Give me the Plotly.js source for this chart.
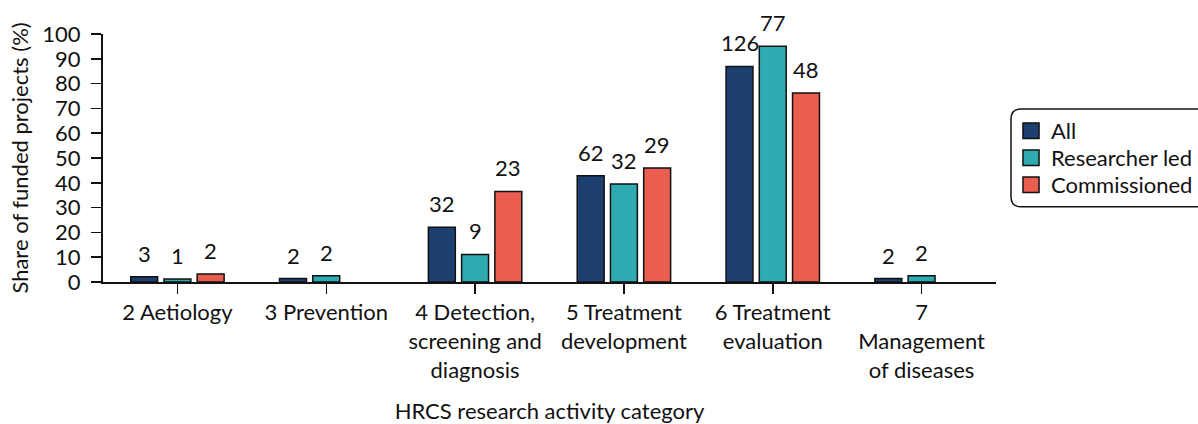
<!DOCTYPE html>
<html>
<head>
<meta charset="utf-8">
<script src="https://cdn.plot.ly/plotly-3.0.1.min.js"></script>
<style>
html,body{margin:0;padding:0;background:#fff;}
#chart{width:1198px;height:424px;}
</style>
</head>
<body>
<div id="chart"></div>
<script>
// ---- data ----
const categories = [
  "2 Aetiology",
  "3 Prevention",
  "4 Detection,<br>screening and<br>diagnosis",
  "5 Treatment<br>development",
  "6 Treatment<br>evaluation",
  "7<br>Management<br>of diseases"
];
const seriesNames = ["All", "Researcher led", "Commissioned"];
const allShare = [2.1, 1.4, 22.1, 42.8, 86.9, 1.4];
const researcherShare = [1.2, 2.5, 11.1, 39.5, 95.1, 2.5];
const commissionedShare = [3.2, null, 36.5, 46.0, 76.2, null];
const allCounts = [3, 2, 32, 62, 126, 2];
const researcherCounts = [1, 2, 9, 32, 77, 2];
const commissionedCounts = [2, null, 23, 29, 48, null];
const yTicks = [0, 10, 20, 30, 40, 50, 60, 70, 80, 90, 100];

// ---- styling ----
const colors = ["#1c3f6f", "#2eabb0", "#ea5e50"];
const FONT = "Lato, 'Open Sans', sans-serif";
const FS = 22;
const shares = [allShare, researcherShare, commissionedShare];
const counts = [allCounts, researcherCounts, commissionedCounts];

const traces = [];
shares.forEach((vals, i) => {
  traces.push({
    type: "bar",
    name: seriesNames[i],
    x: categories,
    y: vals,
    marker: {color: colors[i], line: {color: "#111", width: 1.5}},
    showlegend: false,
    hoverinfo: "skip"
  });
});

// count labels above bars
const slot = 33.2;
const annotations = [];
counts.forEach((arr, i) => {
  arr.forEach((c, j) => {
    if (c === null || shares[i][j] === null) return;
    annotations.push({
      x: categories[j], y: shares[i][j], xref: "x", yref: "y",
      text: String(c), showarrow: false,
      xshift: (i - 1) * slot, yshift: 8,
      yanchor: "bottom", xanchor: "center",
      font: {family: FONT, size: FS, color: "#111"}
    });
  });
});

// custom legend (paper coords; plot area 893 x 248 px)
const shapes = [];
const legRowY = [0.610, 0.501, 0.392];
const symX0 = 1.0302, symX1 = 1.0482, symHalfH = 0.0315, textX = 1.0594;
seriesNames.forEach((nm, i) => {
  shapes.push({
    type: "rect", xref: "paper", yref: "paper",
    x0: symX0, x1: symX1, y0: legRowY[i] - symHalfH, y1: legRowY[i] + symHalfH,
    fillcolor: colors[i], line: {color: "#111", width: 1.5}
  });
  annotations.push({
    xref: "paper", yref: "paper", x: textX, y: legRowY[i],
    xanchor: "left", yanchor: "middle", text: nm, showarrow: false,
    font: {family: FONT, size: FS, color: "#111"}
  });
});
// rounded legend frame
const x0 = 1.0168, x1 = 1.25, yt = 0.6976, yb = 0.303, rx = 0.0112, ry = 0.0403;
shapes.push({
  type: "path", xref: "paper", yref: "paper",
  path: `M ${x1},${yt} L ${x0+rx},${yt} Q ${x0},${yt} ${x0},${yt-ry} L ${x0},${yb+ry} Q ${x0},${yb} ${x0+rx},${yb} L ${x1},${yb}`,
  line: {color: "#111", width: 1.5}, fillcolor: "rgba(0,0,0,0)"
});

const layout = {
  width: 1198, height: 424,
  margin: {l: 103, r: 202, t: 34, b: 142},
  paper_bgcolor: "#fff", plot_bgcolor: "#fff",
  font: {family: FONT, size: FS, color: "#111"},
  barmode: "group",
  bargap: 0.33,
  bargroupgap: 0.19,
  showlegend: false,
  xaxis: {
    type: "category",
    range: [-0.5, 5.5],
    showline: true, linecolor: "#111", linewidth: 2,
    ticks: "outside", ticklen: 10, tickwidth: 1.5, tickcolor: "#111",
    showgrid: false, zeroline: false,
    tickfont: {family: FONT, size: FS, color: "#111"},
    title: {text: "HRCS research activity category", font: {family: FONT, size: FS, color: "#111"}, standoff: 23}
  },
  yaxis: {
    range: [0, 100],
    tickvals: yTicks,
    showline: true, linecolor: "#111", linewidth: 2,
    ticks: "outside", ticklen: 10, tickwidth: 1.5, tickcolor: "#111",
    ticklabelstandoff: 6,
    showgrid: false, zeroline: false,
    tickfont: {family: FONT, size: FS, color: "#111"},
    title: {text: "Share of funded projects (%)", font: {family: FONT, size: FS, color: "#111"}, standoff: 8}
  },
  annotations: annotations,
  shapes: shapes
};

Plotly.newPlot("chart", traces, layout, {displayModeBar: false, staticPlot: true});
</script>
</body>
</html>
